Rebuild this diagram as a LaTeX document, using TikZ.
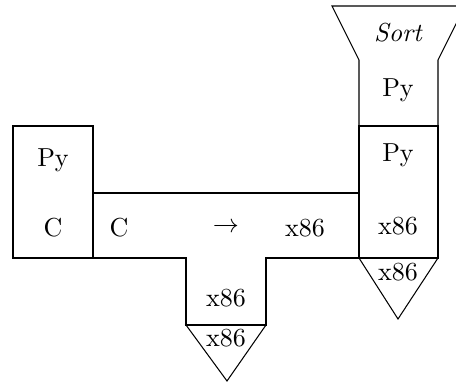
\documentclass[tikz,border=0pt]{standalone}
\usepackage{tikz}
\usetikzlibrary{positioning}
\tikzset{
  td/shape/.style={
    draw=black,
    line width=0.4pt,
    line join=miter
  },
  td/label/.style={
    inner sep=1pt,
    font=\normalsize,
    anchor=center
  },
  td/title/.style={
    inner sep=1pt,
    font=\itshape\normalsize,
    anchor=center
  }
}

\begin{document}
\begin{tikzpicture}[x=0.0135cm,y=-0.0135cm]
  \useasboundingbox (0,0) rectangle (456,386);
  % interpreter Py in C
  \draw[td/shape] (13,126) rectangle (93,258);
  \node[td/label] (pyint) at (53,160) {Py};
  \node[td/label] (cint) at (53,228) {C};
  % compiler C -> x86 in x86
  \draw[td/shape] (93,193) -- (359,193) -- (359,258) -- (266,258) -- (266,325)
    -- (186,325) -- (186,258) -- (93,258) -- cycle;
  \node[td/label] (csrc) at (119,228) {C};
  \node[td/label] (arr) at (226,228) {$\to$};
  \node[td/label] (ctgt) at (305,228) {x86};
  \node[td/label] (cimpl) at (226,298) {x86};
  % machine under the compiler
  \draw[td/shape] (186,325) -- (266,325) -- (227,381) -- cycle;
  \node[td/label] (mach1) at (226,338) {x86};
  % program Sort in Py
  \draw[td/shape] (359,126) -- (359,60) -- (332,6) -- (465,6) -- (438,60) -- (438,126);
  \node[td/title] (sort) at (398,33) {Sort};
  \node[td/label] (pyprog) at (398,90) {Py};
  % interpreter Py in x86
  \draw[td/shape] (359,126) rectangle (438,258);
  \node[td/label] (pyint2) at (398,155) {Py};
  \node[td/label] (x86int) at (398,226) {x86};
  % machine under the interpreter
  \draw[td/shape] (359,258) -- (438,258) -- (398,319) -- cycle;
  \node[td/label] (mach2) at (398,272) {x86};
\end{tikzpicture}
\end{document}
